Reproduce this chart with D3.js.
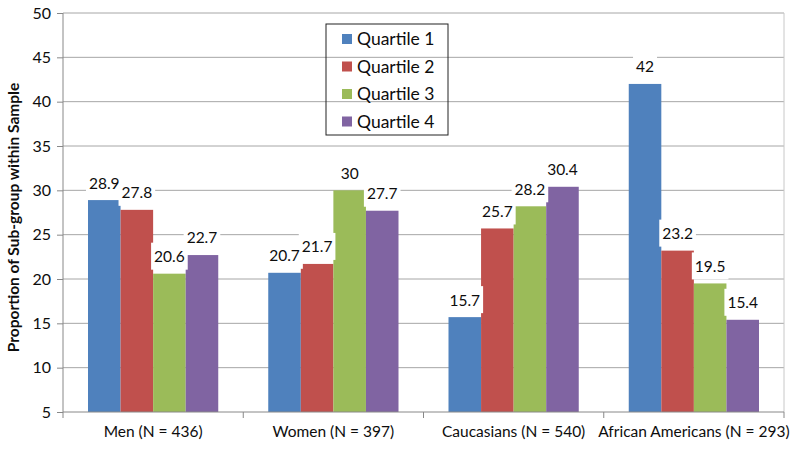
<!DOCTYPE html>
<html>
<head>
<meta charset="utf-8">
<script src="https://cdn.jsdelivr.net/npm/d3@7"></script>
<style>
  body { margin: 0; background: #fff; }
  text { font-family: Lato, "Open Sans", sans-serif; fill: #0d0d0d; }
</style>
</head>
<body>
<div class="canvas"></div>
<script>
const categories = ['Men (N = 436)', 'Women (N = 397)', 'Caucasians (N = 540)', 'African Americans (N = 293)']
const seriesNames = ['Quartile 1', 'Quartile 2', 'Quartile 3', 'Quartile 4']
const quartile1 = [28.9, 20.7, 15.7, 42]
const quartile2 = [27.8, 21.7, 25.7, 23.2]
const quartile3 = [20.6, 30, 28.2, 19.5]
const quartile4 = [22.7, 27.7, 30.4, 15.4]
const yTicks = [5, 10, 15, 20, 25, 30, 35, 40, 45, 50]
const colors = ['#4F81BD', '#C0504D', '#9BBB59', '#8064A2']

const seriesValues = [quartile1, quartile2, quartile3, quartile4]

const width = 800, height = 451
const margins = { top: 13, right: 16, bottom: 39, left: 63 }
const gWidth = width - margins.left - margins.right
const gHeight = height - margins.top - margins.bottom

const svg = d3.select('.canvas').append('svg').attr('width', width).attr('height', height)
const graph = svg.append('g').attr('transform', `translate(${margins.left}, ${margins.top})`)

const x0 = d3.scaleBand().domain(categories).range([0, gWidth]).paddingInner(0).paddingOuter(0)
const x1 = d3.scaleBand().domain(seriesNames).range([25, x0.bandwidth() - 25])
const y = d3.scaleLinear().domain([5, 50]).range([gHeight, 0])

// gridlines
graph.append('g').selectAll('line').data(yTicks.slice(1)).enter().append('line')
    .attr('x1', 0).attr('x2', gWidth)
    .attr('y1', d => y(d)).attr('y2', d => y(d))
    .attr('stroke', '#a6a6a6').attr('stroke-width', 1)
graph.append('line').attr('x1', gWidth).attr('x2', gWidth).attr('y1', 0).attr('y2', gHeight)
    .attr('stroke', '#c8c8c8')

// bars
const rows = categories.map((c, i) => seriesNames.map((s, j) => ({ cat: c, series: s, value: seriesValues[j][i], color: colors[j] })))
const flat = rows.flat()

graph.append('g').selectAll('rect').data(flat).enter().append('rect')
    .attr('x', d => x0(d.cat) + x1(d.series))
    .attr('width', x1.bandwidth())
    .attr('y', d => y(d.value))
    .attr('height', d => gHeight - y(d.value))
    .attr('fill', d => d.color)

// labels: white boxes first, then all texts on top
const labelX = d => x0(d.cat) + x1(d.series) + x1.bandwidth() / 2
const labelY = d => y(d.value) - 17
const boxLayer = graph.append('g')
const textLayer = graph.append('g')
textLayer.selectAll('text').data(flat).enter().append('text')
    .attr('x', labelX).attr('y', labelY)
    .attr('text-anchor', 'middle').attr('dy', '0.35em')
    .style('font-size', '15.5px').text(d => d.value)
    .each(function (d) { d.w = this.getComputedTextLength() })
boxLayer.selectAll('rect').data(flat).enter().append('rect')
    .attr('x', d => labelX(d) - d.w / 2 - 3).attr('width', d => d.w + 6)
    .attr('y', d => labelY(d) - 14).attr('height', 27).attr('fill', '#fff')

// axes
const yAxis = d3.axisLeft(y).tickValues(yTicks).tickSize(6).tickPadding(6)
const yAxisGroup = graph.append('g').call(yAxis)
yAxisGroup.select('.domain').attr('stroke', '#888').attr('d', `M0,0V${gHeight}`)
yAxisGroup.selectAll('.tick line').attr('stroke', '#888')
yAxisGroup.selectAll('text').style('font-size', '16px').style('font-family', 'Lato, sans-serif').attr('fill', '#0d0d0d')

const xAxisGroup = graph.append('g').attr('transform', `translate(0, ${gHeight})`)
xAxisGroup.append('line').attr('x1', 0).attr('x2', gWidth).attr('stroke', '#888')
xAxisGroup.selectAll('.tk').data(d3.range(categories.length + 1)).enter().append('line')
    .attr('x1', d => d * x0.bandwidth()).attr('x2', d => d * x0.bandwidth())
    .attr('y1', 0).attr('y2', 6).attr('stroke', '#888')
xAxisGroup.selectAll('text').data(categories).enter().append('text')
    .attr('x', d => x0(d) + x0.bandwidth() / 2).attr('y', 25)
    .attr('text-anchor', 'middle').style('font-size', '15.5px').text(d => d)

// y title
svg.append('text').attr('transform', `translate(19, ${margins.top + gHeight / 2 + 5}) rotate(-90)`)
    .attr('text-anchor', 'middle').style('font-size', '15.5px').style('font-weight', 'bold')
    .text('Proportion of Sub-group within Sample')

// legend
const legend = svg.append('g').attr('transform', 'translate(326, 24)')
legend.append('rect').attr('width', 122).attr('height', 111).attr('fill', 'none').attr('stroke', '#222')
const items = legend.selectAll('.item').data(seriesNames).enter().append('g')
    .attr('transform', (d, i) => `translate(16, ${15 + i * 27.5})`)
items.append('rect').attr('x', 0).attr('y', -5).attr('width', 10).attr('height', 10).attr('fill', (d, i) => colors[i])
items.append('text').attr('x', 15).attr('dy', '0.35em').style('font-size', '17.5px').text(d => d)
</script>
</body>
</html>
